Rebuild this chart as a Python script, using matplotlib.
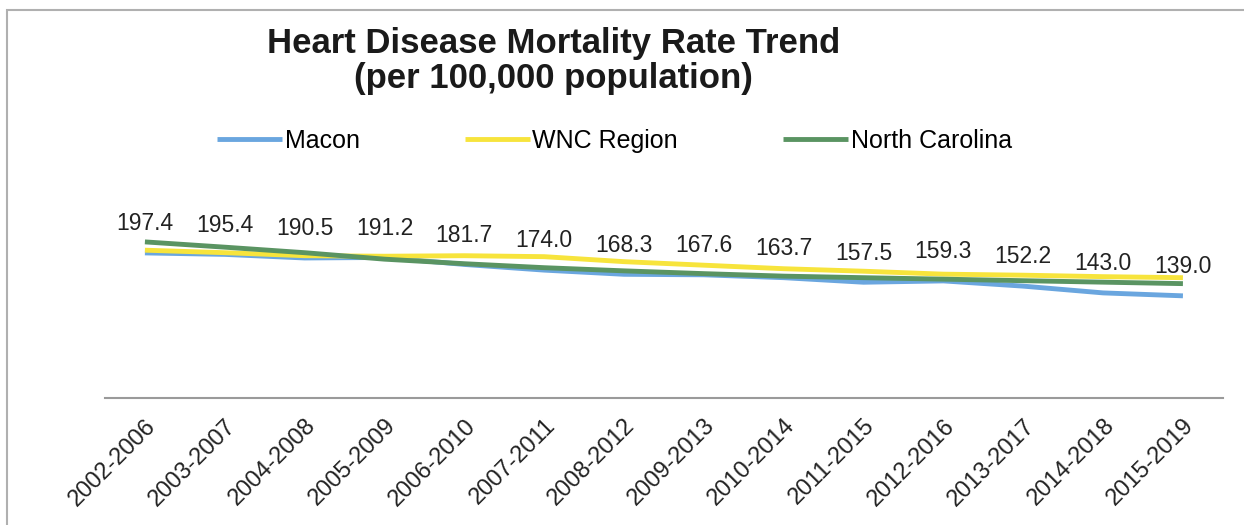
import matplotlib
matplotlib.use("Agg")
import matplotlib.pyplot as plt
from matplotlib.patches import Rectangle

periods = ["2002-2006", "2003-2007", "2004-2008", "2005-2009", "2006-2010",
           "2007-2011", "2008-2012", "2009-2013", "2010-2014", "2011-2015",
           "2012-2016", "2013-2017", "2014-2018", "2015-2019"]
macon = [197.4, 195.4, 190.5, 191.2, 181.7, 174.0, 168.3, 167.6, 163.7,
         157.5, 159.3, 152.2, 143.0, 139.0]
wnc = [201.1, 197.7, 193.6, 192.9, 193.6, 192.3, 185.5, 180.7, 175.9,
       172.5, 168.5, 167.1, 165.1, 163.7]
nc = [212.4, 205.2, 197.7, 188.9, 182.7, 177.3, 173.0, 169.2, 165.8,
      163.7, 161.7, 159.6, 157.6, 155.6]

plt.rcParams['font.family'] = ['Liberation Sans', 'DejaVu Sans']

fig = plt.figure(figsize=(12.44, 5.25), dpi=100)
ax = fig.add_axes([0.0844, 0.2419, 0.8986, 0.350])

x = list(range(len(periods)))
ax.plot(x, macon, color="#6aa6df", lw=3.5, label="Macon", solid_capstyle="butt")
ax.plot(x, wnc, color="#f7e43c", lw=3.5, label="WNC Region", solid_capstyle="butt")
ax.plot(x, nc, color="#5a9462", lw=3.5, label="North Carolina", solid_capstyle="butt")

for xi, v in zip(x, macon):
    ax.annotate("%.1f" % v, (xi, v), xytext=(0, 21), textcoords="offset points",
                ha="center", va="center", fontsize=16.5, color="#222222")

ax.set_xlim(-0.5, len(periods) - 0.5)
ax.set_ylim(0, 250)
ax.set_xticks(x)
ax.set_xticklabels(periods, rotation=45, ha="right", rotation_mode="anchor",
                   fontsize=17, color="#222222")
ax.tick_params(axis="x", length=0, pad=12)
ax.set_yticks([])
for s in ["top", "right", "left"]:
    ax.spines[s].set_visible(False)
ax.spines["bottom"].set_color("#9a9a9a")
ax.spines["bottom"].set_linewidth(1.5)

fig.text(0.445, 0.948, "Heart Disease Mortality Rate Trend\n(per 100,000 population)",
         ha="center", va="top", fontsize=25, fontweight="bold", linespacing=1.05,
         color="#1a1a1a")

fig.legend(loc="center", bbox_to_anchor=(0.494, 0.731), ncol=3, frameon=False,
           fontsize=18, handlelength=2.6, handletextpad=0.1, columnspacing=4.2)

fig.patches.append(Rectangle((7 / 1244, -0.1), 1.1, 1 - 10 / 525 + 0.1,
                             transform=fig.transFigure, fill=False,
                             edgecolor="#b0b0b0", lw=1.5))

fig.savefig("out.png", dpi=100)
